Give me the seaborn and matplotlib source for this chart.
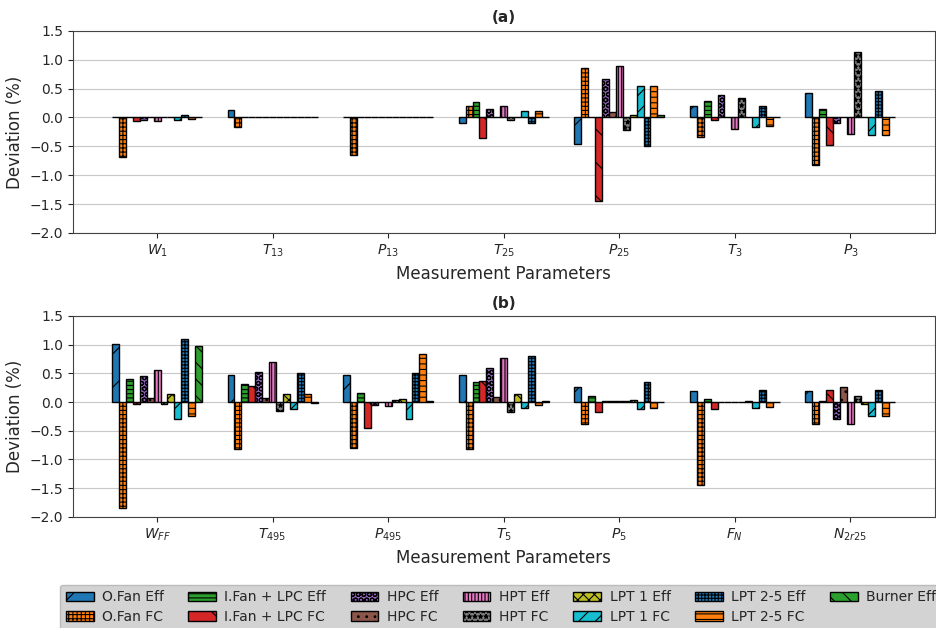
import pandas as pd
import matplotlib.pyplot as plt
import seaborn as sns

# Series (13 fault cases) and colours / hatches
series = ["O.Fan Eff", "O.Fan FC", "I.Fan + LPC Eff", "I.Fan + LPC FC", "HPC Eff", "HPC FC",
          "HPT Eff", "HPT FC", "LPT 1 Eff", "LPT 1 FC", "LPT 2-5 Eff", "LPT 2-5 FC", "Burner Eff"]
colors = ["#1f77b4", "#ff7f0e", "#2ca02c", "#d62728", "#9467bd", "#8c564b", "#e377c2",
          "#7f7f7f", "#bcbd22", "#17becf", "#1f77b4", "#ff7f0e", "#2ca02c"]
hatches = ["/", "++++", "----", "\\", "OOO", "..", "|||||", "***", "xxx", "//", "+++++", "---", "\\\\"]

# Panel (a): deviation per measurement parameter, one value per series
labels_a = ["$W_1$", "$T_{13}$", "$P_{13}$", "$T_{25}$", "$P_{25}$", "$T_3$", "$P_3$"]
w1 = [0.0, -0.68, 0.0, -0.07, -0.04, 0.0, -0.07, 0.01, 0.0, -0.04, 0.04, -0.03, 0.0]
t13 = [0.13, -0.17, 0.0, 0.0, 0.0, 0.0, 0.0, 0.0, 0.0, 0.0, 0.0, 0.0, 0.0]
p13 = [0.01, -0.65, 0.0, 0.0, 0.0, 0.0, 0.0, 0.0, 0.0, 0.0, 0.0, 0.0, 0.0]
t25 = [-0.1, 0.19, 0.26, -0.35, 0.14, 0.01, 0.19, -0.04, 0.0, 0.12, -0.1, 0.12, 0.0]
p25 = [-0.46, 0.86, 0.01, -1.45, 0.67, 0.1, 0.89, -0.22, 0.05, 0.55, -0.5, 0.55, 0.04]
t3 = [0.19, -0.34, 0.28, -0.04, 0.38, 0.0, -0.2, 0.33, 0.0, -0.17, 0.19, -0.15, 0.0]
p3 = [0.43, -0.82, 0.14, -0.47, -0.1, 0.0, -0.28, 1.13, 0.0, -0.31, 0.46, -0.3, 0.0]

# Panel (b)
labels_b = ["$W_{FF}$", "$T_{495}$", "$P_{495}$", "$T_5$", "$P_5$", "$F_N$", "$N_{2r25}$"]
wff = [1.01, -1.84, 0.40, -0.03, 0.45, 0.07, 0.55, -0.03, 0.14, -0.30, 1.10, -0.25, 0.98]
t495 = [0.47, -0.81, 0.31, 0.28, 0.52, 0.07, 0.69, -0.16, 0.14, -0.12, 0.50, 0.14, -0.01]
p495 = [0.47, -0.80, 0.16, -0.46, -0.05, 0.0, -0.07, 0.03, 0.05, -0.29, 0.50, 0.84, 0.02]
t5 = [0.47, -0.81, 0.35, 0.37, 0.59, 0.09, 0.77, -0.18, 0.14, -0.10, 0.81, -0.05, 0.01]
p5 = [0.26, -0.39, 0.11, -0.18, 0.02, 0.02, 0.02, 0.02, 0.03, -0.12, 0.35, -0.10, 0.0]
fn = [0.19, -1.45, 0.05, -0.13, 0.0, 0.0, 0.0, 0.0, 0.02, -0.10, 0.21, -0.08, 0.0]
n2r25 = [0.19, -0.39, 0.02, 0.21, -0.29, 0.26, -0.39, 0.11, -0.03, -0.24, 0.21, -0.24, 0.0]

panel_a = [w1, t13, p13, t25, p25, t3, p3]
panel_b = [wff, t495, p495, t5, p5, fn, n2r25]


def to_long(labels, panel):
    rows = []
    for lab, vals in zip(labels, panel):
        for s, v in zip(series, vals):
            rows.append({"param": lab, "series": s, "value": v})
    return pd.DataFrame(rows)


sns.set_style("ticks", {"axes.grid": True, "grid.color": "#c8c8c8", "axes.edgecolor": "#444444"})
plt.rcParams["hatch.linewidth"] = 0.8

fig = plt.figure(figsize=(9.37, 6.28), dpi=100)
ax_a = fig.add_axes([0.0776, 0.629, 0.92, 0.322])
ax_b = fig.add_axes([0.0776, 0.177, 0.92, 0.320])

for ax, labels, panel, title in [(ax_a, labels_a, panel_a, "(a)"), (ax_b, labels_b, panel_b, "(b)")]:
    df = to_long(labels, panel)
    sns.barplot(data=df, x="param", y="value", hue="series", hue_order=series,
                order=labels, palette=colors, width=0.78, edgecolor="black",
                linewidth=1, saturation=1, legend=False, ax=ax)
    for cont, h in zip(ax.containers, hatches):
        for p in cont.patches:
            p.set_hatch(h)
    ax.set_xlim(-0.73, 6.73)
    ax.set_ylim(-2.0, 1.5)
    ax.set_yticks([-2.0, -1.5, -1.0, -0.5, 0.0, 0.5, 1.0, 1.5])
    ax.set_title(title, fontsize=11, fontweight="bold")
    ax.set_xlabel("Measurement Parameters", fontsize=12)
    ax.set_ylabel("Deviation (%)", fontsize=12)
    ax.tick_params(labelsize=10)
    ax.set_axisbelow(True)

handles = [ax_b.containers[i].patches[0] for i in range(len(series))]
fig.legend(handles, series, ncol=7, loc="upper left", bbox_to_anchor=(0.057, 0.08),
           fontsize=10, facecolor="#d3d3d3", framealpha=1, edgecolor="#bbbbbb",
           handletextpad=0.6, labelspacing=0.4, columnspacing=1.75)

plt.savefig("out.png", dpi=100)
